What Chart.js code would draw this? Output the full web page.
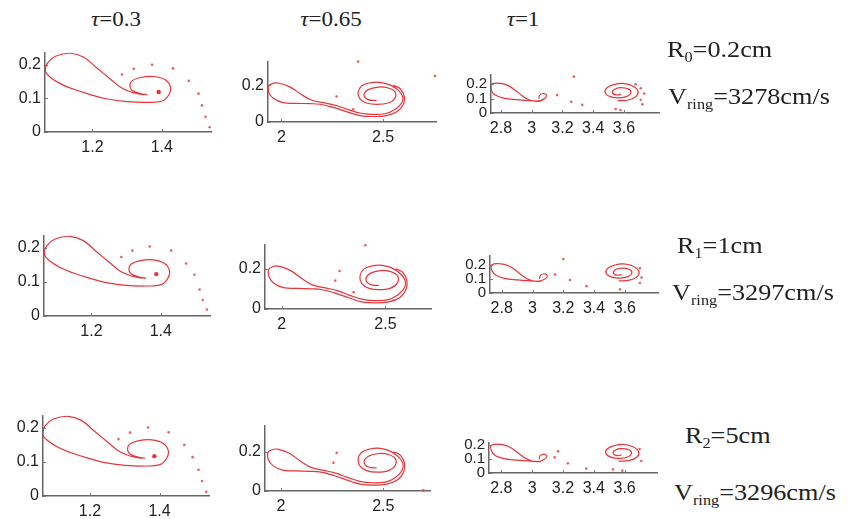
<!DOCTYPE html>
<html>
<head>
<meta charset="utf-8">
<script src="https://cdn.jsdelivr.net/npm/chart.js@4.4.1/dist/chart.umd.min.js"></script>
<style>
  body { margin: 0; background: #fff; width: 854px; height: 519px; position: relative; overflow: hidden; }
  canvas { position: absolute; }
  .lbl { position: absolute; font-family: 'Liberation Serif', 'Times New Roman', serif; color: #222;
         white-space: nowrap; transform-origin: 0 50%; line-height: 1; }
  .lbl sub { font-size: 0.62em; vertical-align: -0.35em; }
  .ttl { font-size: 20px; transform: translate(-50%, -50%) scaleX(1.15); transform-origin: 50% 50%; }
  .par { font-size: 23px; transform: translateY(-50%) scaleX(1.14); }
</style>
</head>
<body>
<script>
// sheet outlines, one per time step (same shape in all three rows)
const sheetTau03 = [
  [1.348,0.111],[1.329,0.114],[1.305,0.121],[1.281,0.133],[1.252,0.157],[1.213,0.190],
  [1.175,0.222],[1.137,0.234],[1.095,0.226],[1.071,0.206],[1.064,0.181],[1.079,0.162],
  [1.108,0.143],[1.146,0.127],[1.194,0.111],[1.242,0.098],[1.300,0.090],[1.358,0.088],
  [1.401,0.092],[1.420,0.110],[1.425,0.133],[1.410,0.155],[1.377,0.165],[1.338,0.162],
  [1.314,0.152],[1.308,0.138],[1.314,0.124],[1.338,0.114],[1.358,0.111]
];
const sheetTau065 = [
  [2.550,0.200],[2.583,0.183],[2.604,0.139],[2.599,0.096],[2.570,0.057],[2.517,0.035],
  [2.451,0.030],[2.386,0.035],[2.320,0.057],[2.254,0.080],[2.189,0.097],[2.139,0.100],
  [2.074,0.102],[2.008,0.106],[1.962,0.128],[1.938,0.160],[1.936,0.195],[1.955,0.210],
  [1.983,0.213],[2.041,0.192],[2.098,0.150],[2.147,0.120],[2.205,0.106],[2.271,0.090],
  [2.328,0.068],[2.386,0.049],[2.443,0.042],[2.509,0.045],[2.558,0.068],[2.591,0.104],
  [2.596,0.139],[2.574,0.174],[2.533,0.203],[2.484,0.217],[2.435,0.214],[2.394,0.197],
  [2.377,0.162],[2.386,0.127],[2.418,0.104],[2.468,0.096],[2.525,0.104],[2.558,0.130],
  [2.558,0.165],[2.525,0.186],[2.476,0.191],[2.427,0.177],[2.406,0.148],[2.427,0.122],
  [2.468,0.117]
];
const sheetTau1 = [
  [3.057,0.081],[2.992,0.085],[2.905,0.092],[2.818,0.103],[2.763,0.124],[2.737,0.156],
  [2.737,0.199],[2.796,0.205],[2.850,0.188],[2.894,0.156],[2.937,0.120],[2.981,0.092],
  [3.035,0.081],[3.078,0.096],[3.096,0.120],[3.078,0.135],[3.052,0.124],[3.046,0.100]
];
const coreTau1 = [
  [3.580,0.130],[3.550,0.125],[3.525,0.140],[3.540,0.165],[3.580,0.175],[3.630,0.165],
  [3.645,0.140],[3.620,0.115],[3.570,0.105],[3.515,0.112],[3.480,0.135],[3.485,0.170],
  [3.530,0.195],[3.590,0.205],[3.650,0.190],[3.690,0.155],[3.680,0.115],[3.630,0.090],
  [3.560,0.085]
];

// shed points, per ring radius
const dotsR0Tau03 = [[1.285,0.171],[1.319,0.188],[1.372,0.200],[1.432,0.189],[1.478,0.152],[1.506,0.114],[1.516,0.079],[1.526,0.045],[1.538,0.014]];
const dotsR1Tau03 = [[1.286,0.173],[1.318,0.192],[1.368,0.204],[1.430,0.192],[1.473,0.154],[1.497,0.121],[1.512,0.078],[1.521,0.047],[1.533,0.019]];
const dotsR2Tau03 = [[1.282,0.167],[1.315,0.186],[1.367,0.201],[1.426,0.187],[1.471,0.150],[1.495,0.114],[1.512,0.077],[1.522,0.044],[1.534,0.012]];
const eyeR0Tau03 = [[1.391,0.119]];
const eyeR1Tau03 = [[1.387,0.123]];
const eyeR2Tau03 = [[1.385,0.117]];

const dotsR0Tau065 = [[2.377,0.330],[2.755,0.252],[2.271,0.139],[2.353,0.070]];
const dotsR1Tau065 = [[2.403,0.317],[2.279,0.189],[2.258,0.141],[2.347,0.083]];
const dotsR2Tau065 = [[2.272,0.194],[2.256,0.144],[2.695,0.003]];

const dotsR0Tau1 = [[3.274,0.252],[3.165,0.124],[3.257,0.077],[3.328,0.056],[3.676,0.199],[3.709,0.171],[3.731,0.135],[3.709,0.092],[3.720,0.060],[3.546,0.028],[3.578,0.021]];
const dotsR1Tau1 = [[3.200,0.239],[3.146,0.130],[3.243,0.091],[3.351,0.048],[3.697,0.174],[3.708,0.109],[3.697,0.070],[3.568,0.026]];
const dotsR2Tau1 = [[3.168,0.155],[3.146,0.112],[3.232,0.069],[3.351,0.032],[3.524,0.026],[3.585,0.017],[3.697,0.172],[3.708,0.086]];

// tick values
const xTicksTau03 = [1.2, 1.4];
const yTicksTau03 = [0, 0.1, 0.2];
const xTicksTau065 = [2, 2.5];
const yTicksTau065 = [0, 0.2];
const xTicksTau1 = [2.8, 3, 3.2, 3.4, 3.6];
const yTicksTau1 = [0, 0.1, 0.2];

// headings
const tauLabels = ['0.3', '0.65', '1'];
const radiusLabels = [['0', '0.2cm'], ['1', '1cm'], ['2', '5cm']];
const ringSpeeds = ['3278', '3297', '3296'];

const RED = 'rgb(232,52,58)';
const DOT = 'rgba(232,52,58,0.8)';

// plot boxes (page px) and axis limits
const panels = [
  { box: [45, 49, 211, 132],  xr: [1.063, 1.542], yr: [0, 0.236], lines: [sheetTau03], dots: dotsR0Tau03, eye: eyeR0Tau03, xt: xTicksTau03, yt: yTicksTau03, xf: 16, yf: 16 },
  { box: [268, 58, 436, 122], xr: [1.934, 2.760], yr: [0, 0.330], lines: [sheetTau065], dots: dotsR0Tau065, eye: [], xt: xTicksTau065, yt: yTicksTau065, xf: 16, yf: 16 },
  { box: [491, 72, 659, 113], xr: [2.735, 3.828], yr: [0, 0.263], lines: [sheetTau1, coreTau1], dots: dotsR0Tau1, eye: [], xt: xTicksTau1, yt: yTicksTau1, xf: 16, yf: 15 },

  { box: [44, 232, 210, 316], xr: [1.063, 1.542], yr: [0, 0.236], lines: [sheetTau03], dots: dotsR1Tau03, eye: eyeR1Tau03, xt: xTicksTau03, yt: yTicksTau03, xf: 16, yf: 16 },
  { box: [265, 241, 431, 309], xr: [1.919, 2.720], yr: [0, 0.320], lines: [sheetTau065], dots: dotsR1Tau065, eye: [], xt: xTicksTau065, yt: yTicksTau065, xf: 16, yf: 16 },
  { box: [490, 253, 658, 293], xr: [2.724, 3.815], yr: [0, 0.260], lines: [sheetTau1, coreTau1], dots: dotsR1Tau1, eye: [], xt: xTicksTau1, yt: yTicksTau1, xf: 16, yf: 15 },

  { box: [43, 412, 209, 496], xr: [1.065, 1.542], yr: [0, 0.236], lines: [sheetTau03], dots: dotsR2Tau03, eye: eyeR2Tau03, xt: xTicksTau03, yt: yTicksTau03, xf: 16, yf: 16 },
  { box: [265, 422, 430, 491], xr: [1.922, 2.728], yr: [0, 0.333], lines: [sheetTau065], dots: dotsR2Tau065, eye: [], xt: xTicksTau065, yt: yTicksTau065, xf: 16, yf: 16 },
  { box: [489, 440, 657, 473], xr: [2.720, 3.810], yr: [0, 0.215], lines: [sheetTau1, coreTau1], dots: dotsR2Tau1, eye: [], xt: xTicksTau1, yt: yTicksTau1, xf: 16, yf: 15 }
];

const toPts = arr => arr.map(([x, y]) => ({ x, y }));

// short inward tick marks, matlab style
const innerTicks = {
  id: 'innerTicks',
  afterDraw(chart) {
    const { ctx, chartArea: a, scales: { x, y } } = chart;
    ctx.save();
    ctx.strokeStyle = '#777';
    ctx.lineWidth = 1;
    ctx.beginPath();
    x.ticks.forEach(t => {
      const px = Math.round(x.getPixelForValue(t.value)) + 0.5;
      ctx.moveTo(px, a.bottom); ctx.lineTo(px, a.bottom - 3);
    });
    y.ticks.forEach(t => {
      const py = Math.round(y.getPixelForValue(t.value)) + 0.5;
      ctx.moveTo(a.left, py); ctx.lineTo(a.left + 3, py);
    });
    ctx.stroke();
    ctx.restore();
  }
};

const makePanel = p => {
  const padL = 44, padT = 10, padR = 12, padB = 30;
  const [l, t, r, b] = p.box;
  const cv = document.createElement('canvas');
  cv.width = r - l + padL + padR;
  cv.height = b - t + padT + padB;
  cv.style.left = (l - padL) + 'px';
  cv.style.top = (t - padT) + 'px';
  document.body.appendChild(cv);

  const datasets = p.lines.map(line => ({
    data: toPts(line), showLine: true, borderColor: RED, borderWidth: 1.2,
    pointRadius: 0, tension: 0.4, fill: false
  }));
  datasets.push({ data: toPts(p.dots), showLine: false, pointRadius: 1.3, backgroundColor: DOT, borderWidth: 0, clip: false });
  datasets.push({ data: toPts(p.eye), showLine: false, pointRadius: 2.2, backgroundColor: RED, borderWidth: 0 });

  const tickFont = size => ({ family: "'Liberation Sans', Arial, sans-serif", size });

  new Chart(cv, {
    type: 'scatter',
    data: { datasets },
    options: {
      responsive: false,
      animation: false,
      layout: { padding: { left: 0, top: padT, right: padR, bottom: 0 } },
      plugins: { legend: { display: false }, tooltip: { enabled: false } },
      scales: {
        x: {
          type: 'linear', min: p.xr[0], max: p.xr[1],
          grid: { display: false, drawTicks: false },
          border: { color: '#666', width: 1.5 },
          ticks: { font: tickFont(p.xf), color: '#222', padding: 6, autoSkip: false, maxRotation: 0, callback: v => String(v) },
          afterBuildTicks: a => { a.ticks = p.xt.map(v => ({ value: v })); },
          afterFit: a => { a.height = padB; }
        },
        y: {
          type: 'linear', min: p.yr[0], max: p.yr[1],
          grid: { display: false, drawTicks: false },
          border: { color: '#666', width: 1.5 },
          ticks: { font: tickFont(p.yf), color: '#222', padding: 4, autoSkip: false, callback: v => String(v) },
          afterBuildTicks: a => { a.ticks = p.yt.map(v => ({ value: v })); },
          afterFit: a => { a.width = padL; }
        }
      }
    },
    plugins: [innerTicks]
  });
};

panels.forEach(makePanel);

// text around the panels
const addLabel = (html, cls, left, top) => {
  const d = document.createElement('div');
  d.className = 'lbl ' + cls;
  d.innerHTML = html;
  d.style.left = left + 'px';
  d.style.top = top + 'px';
  document.body.appendChild(d);
};

const titleX = [116, 331, 523];
tauLabels.forEach((v, i) => addLabel('<i>τ</i>=' + v, 'ttl', titleX[i], 19));

const rPos = [[667, 51], [677, 247], [685, 437]];
const vPos = [[668, 98], [672, 294], [674, 494]];
radiusLabels.forEach(([k, v], i) => addLabel('R<sub>' + k + '</sub>=' + v, 'par', rPos[i][0], rPos[i][1]));
ringSpeeds.forEach((v, i) => addLabel('V<sub>ring</sub>=' + v + 'cm/s', 'par', vPos[i][0], vPos[i][1]));
</script>
</body>
</html>
